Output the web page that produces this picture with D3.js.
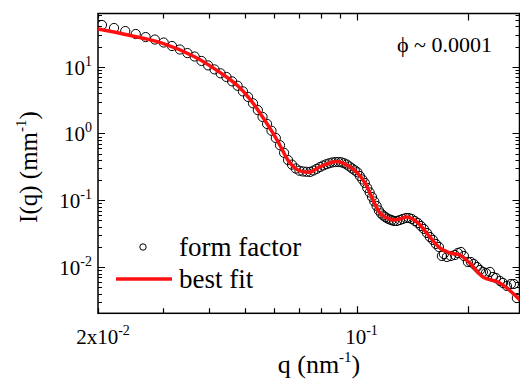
<!DOCTYPE html>
<html>
<head>
<meta charset="utf-8">
<script src="https://cdn.jsdelivr.net/npm/d3@7"></script>
<style>
  body { margin: 0; background: #fff; }
</style>
</head>
<body>
<div class="chart"></div>
<script>
// measured form factor (q in nm^-1, I in mm^-1)
const qForm = [0.0205, 0.0221, 0.0237, 0.0253, 0.0269, 0.0285, 0.0301, 0.0317, 0.0333, 0.0349,
  0.0365, 0.0381, 0.0397, 0.0413, 0.0429, 0.0445, 0.0461, 0.0477, 0.0493, 0.0509,
  0.0525, 0.0541, 0.0557, 0.0573, 0.0589, 0.0605, 0.0621, 0.0637, 0.0653, 0.0669,
  0.0685, 0.0701, 0.0717, 0.0733, 0.0749, 0.0765, 0.0781, 0.0797, 0.0813, 0.0829,
  0.0845, 0.0861, 0.0877, 0.0893, 0.0909, 0.0925, 0.0941, 0.0957, 0.0973, 0.0989,
  0.1005, 0.1021, 0.1037, 0.1053, 0.1069, 0.1085, 0.1101, 0.1117, 0.1133, 0.1149,
  0.1165, 0.1181, 0.1197, 0.1213, 0.1229, 0.1245,
  0.1262, 0.1286, 0.1310, 0.1334, 0.1360, 0.1385, 0.1411, 0.1438, 0.1465, 0.1493,
  0.1521, 0.1550, 0.1579, 0.1609, 0.1639, 0.1670, 0.1701, 0.1722, 0.1755, 0.1799,
  0.1845, 0.1879, 0.1915, 0.1951, 0.2000, 0.2038, 0.2076, 0.2116, 0.2156, 0.2196,
  0.2238, 0.2294, 0.2338, 0.2382, 0.2442, 0.2488, 0.2550, 0.2614, 0.2663, 0.2713];
const iForm = [42.1, 38.0, 34.2, 30.9, 27.8, 25.5, 23.0, 20.4, 18.1, 16.0,
  14.2, 12.2, 10.46, 9.11, 7.96, 7.01, 6.03, 5.18, 4.27, 3.53,
  2.83, 2.24, 1.77, 1.39, 1.10, 0.856, 0.668, 0.513, 0.400, 0.342,
  0.299, 0.277, 0.270, 0.267, 0.266, 0.279, 0.296, 0.315, 0.332, 0.347,
  0.359, 0.369, 0.374, 0.374, 0.371, 0.359, 0.343, 0.321, 0.299, 0.281,
  0.263, 0.231, 0.205, 0.182, 0.153, 0.131, 0.112, 0.0960, 0.0822, 0.0704,
  0.0635, 0.0592, 0.0558, 0.0534, 0.0516, 0.0504,
  0.0490, 0.0490, 0.0507, 0.0525, 0.0543, 0.0543, 0.0525, 0.0490, 0.0457, 0.0412,
  0.0372, 0.0324, 0.0282, 0.0255, 0.0222, 0.0200, 0.01466, 0.01570, 0.01416, 0.01466,
  0.01517, 0.01626, 0.01683, 0.01466, 0.01191, 0.01191, 0.01111, 0.01002, 0.00904, 0.00845,
  0.00816, 0.00845, 0.00711, 0.00687, 0.00619, 0.00578, 0.00521, 0.00558, 0.00558, 0.00344];

// best fit curve
const qFit = [0.0200, 0.0241, 0.0298, 0.0366, 0.0449, 0.0478, 0.0515, 0.0548, 0.0594, 0.0620,
  0.0652, 0.0681, 0.0703, 0.0748, 0.0796, 0.0863, 0.0902, 0.0960, 0.1000, 0.1054,
  0.1087, 0.1156, 0.1194, 0.1254, 0.1310, 0.1368, 0.1456, 0.1578, 0.1680, 0.1788,
  0.1900, 0.2024, 0.2196, 0.2440, 0.2766];
const iFit = [36.6, 29.8, 22.6, 14.0, 6.78, 5.14, 3.28, 2.03, 1.02, 0.673,
  0.401, 0.305, 0.275, 0.265, 0.316, 0.375, 0.375, 0.316, 0.265, 0.182,
  0.1285, 0.0646, 0.0562, 0.0507, 0.0525, 0.0562, 0.0473, 0.0282, 0.0193, 0.01626,
  0.01517, 0.0115, 0.00711, 0.00578, 0.00321];

// ticks
const yMajor = [10, 1, 0.1, 0.01];
const yLabels = ["1", "0", "-1", "-2"];
const xLabels = [{q: 0.02, base: "2x10", exp: "-2"}, {q: 0.1, base: "10", exp: "-1"}];

const formData = qForm.map((q, i) => ({q: q, I: iForm[i]}));
const fitData = qFit.map((q, i) => ({q: q, I: iFit[i]}));

const width = 520;
const height = 381;
const margin = ({left: 98, right: 519.5, top: 13.5, bottom: 313.3});

const svg = d3.select(".chart")
    .append("svg")
    .attr("width", width)
    .attr("height", height)
    .attr("font-family", "'Liberation Serif', 'DejaVu Serif', serif");

// log scales
const xScale = d3.scaleLog()
    .domain([0.02, 0.2758])
    .range([margin.left, margin.right]);

const yScale = d3.scaleLog()
    .domain([0.002032, 62.6])
    .range([margin.bottom, margin.top]);

svg.append("clipPath")
    .attr("id", "clip")
    .append("rect")
    .attr("x", margin.left)
    .attr("y", margin.top)
    .attr("width", margin.right - margin.left)
    .attr("height", margin.bottom - margin.top);

// minor tick positions
const yTicks = [];
for (let e = -3; e <= 1; e++) {
  for (let m = 1; m <= 9; m++) {
    const v = m * Math.pow(10, e);
    if (v >= yScale.domain()[0] && v <= yScale.domain()[1]) yTicks.push(v);
  }
}
const xTicks = [0.02, 0.03, 0.04, 0.05, 0.06, 0.07, 0.08, 0.09, 0.1, 0.2];

const axes = svg.append("g")
    .attr("stroke", "#000")
    .attr("stroke-width", 1.2);

// left and right ticks, pointing inward
axes.selectAll(".ytick")
    .data(yTicks)
    .enter()
    .append("path")
    .attr("d", (d) => {
      const len = yMajor.includes(d) ? 7 : 4;
      const y = Math.round(yScale(d)) + 0.5;
      return `M${margin.left},${y}h${len}M${margin.right},${y}h${-len}`;
    });

// bottom and top ticks
axes.selectAll(".xtick")
    .data(xTicks)
    .enter()
    .append("path")
    .attr("d", (d) => {
      const len = (d === 0.1 || d === 0.2) ? 7 : 5;
      const x = Math.round(xScale(d)) + 0.5;
      return `M${x},${margin.bottom}v${-len}M${x},${margin.top}v${len}`;
    });

// frame
svg.append("rect")
    .attr("x", margin.left)
    .attr("y", margin.top)
    .attr("width", margin.right - margin.left)
    .attr("height", margin.bottom - margin.top)
    .attr("fill", "none")
    .attr("stroke", "#000")
    .attr("stroke-width", 1.5);

// y tick labels
const yLab = svg.append("g")
    .attr("font-size", 21)
    .selectAll("text")
    .data(yMajor)
    .enter()
    .append("text")
    .attr("x", 92)
    .attr("y", (d) => yScale(d) + 8)
    .attr("text-anchor", "end");
yLab.append("tspan").text("10");
yLab.append("tspan")
    .attr("font-size", 14)
    .attr("dy", -9)
    .text((d, i) => yLabels[i]);

// x tick labels
const xLab = svg.append("g")
    .attr("font-size", 21)
    .selectAll("text")
    .data(xLabels)
    .enter()
    .append("text")
    .attr("x", (d) => xScale(d.q) + 5)
    .attr("y", 344)
    .attr("text-anchor", "middle");
xLab.append("tspan").text((d) => d.base);
xLab.append("tspan")
    .attr("font-size", 14)
    .attr("dy", -9)
    .text((d) => d.exp);

// axis titles
const xTitle = svg.append("text")
    .attr("x", 319)
    .attr("y", 373)
    .attr("font-size", 26)
    .attr("text-anchor", "middle");
xTitle.append("tspan").text("q (nm");
xTitle.append("tspan").attr("font-size", 15).attr("dy", -11).text("-1");
xTitle.append("tspan").attr("dy", 11).text(")");

const yTitle = svg.append("text")
    .attr("transform", "translate(37,167) rotate(-90)")
    .attr("font-size", 25)
    .attr("text-anchor", "middle");
yTitle.append("tspan").text("I(q) (mm");
yTitle.append("tspan").attr("font-size", 15).attr("dy", -11).text("-1");
yTitle.append("tspan").attr("dy", 11).text(")");

// data
const plot = svg.append("g")
    .attr("clip-path", "url(#clip)");

plot.selectAll("circle")
    .data(formData)
    .enter()
    .append("circle")
    .attr("cx", (d) => xScale(d.q))
    .attr("cy", (d) => yScale(d.I))
    .attr("r", 4.6)
    .attr("fill", "none")
    .attr("stroke", "#000")
    .attr("stroke-width", 1);

const line = d3.line()
    .x((d) => xScale(d.q))
    .y((d) => yScale(d.I))
    .curve(d3.curveCatmullRom);

plot.append("path")
    .datum(fitData)
    .attr("fill", "none")
    .attr("stroke", "#ff1010")
    .attr("stroke-width", 3.5)
    .attr("d", line);

// annotation
svg.append("text")
    .attr("x", 397)
    .attr("y", 52)
    .attr("font-size", 22)
    .text("\u03d5 ~ 0.0001");

// legend
const legend = svg.append("g")
    .attr("font-size", 27);

legend.append("circle")
    .attr("cx", 143)
    .attr("cy", 247)
    .attr("r", 3.2)
    .attr("fill", "none")
    .attr("stroke", "#000")
    .attr("stroke-width", 1);

legend.append("text")
    .attr("x", 179)
    .attr("y", 256)
    .text("form factor");

legend.append("line")
    .attr("x1", 116)
    .attr("x2", 172)
    .attr("y1", 279)
    .attr("y2", 279)
    .attr("stroke", "#ff1010")
    .attr("stroke-width", 3.5);

legend.append("text")
    .attr("x", 179)
    .attr("y", 288)
    .text("best fit");
</script>
</body>
</html>
